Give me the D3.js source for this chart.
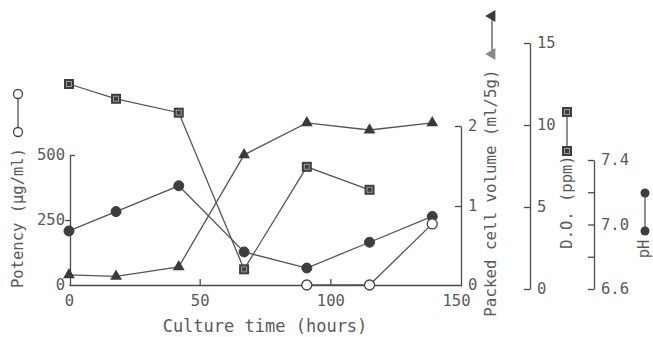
<!DOCTYPE html>
<html>
<head>
<meta charset="utf-8">
<script src="https://cdn.jsdelivr.net/npm/d3@7"></script>
<style>
  html, body { margin: 0; padding: 0; background: #fff; }
  svg { display: block; }
  text { font-family: "DejaVu Sans Mono", monospace; fill: #5a5a5a; }
</style>
</head>
<body>
<svg id="chart" width="653" height="337"></svg>
<script>
// ---- data ----
const hours = [0, 18, 42, 67, 91, 115, 139];
const potencyHours = [91, 115, 139];
const potency = [0, 0, 235];                       // µg/ml, open circles
const packedCellVolume = [0.14, 0.12, 0.24, 1.64, 2.04, 1.95, 2.04]; // ml/5g, triangles
const doHours = [0, 18, 42, 67, 91, 115];
const dissolvedO2 = [12.5, 11.6, 10.75, 1.2, 7.45, 6.05];            // ppm, squares
const pH = [6.96, 7.08, 7.24, 6.83, 6.73, 6.89, 7.05];               // filled circles

const xTicks = [0, 50, 100, 150];
const potencyTicks = [0, 250, 500];
const pcvTicks = [0, 1, 2];
const doTicks = [0, 5, 10, 15];
const phTicks = [6.6, 6.8, 7.0, 7.2, 7.4];
const phTickLabels = {"6.6": "6.6", "7": "7.0", "7.4": "7.4"};

// ---- scales ----
const x = d3.scaleLinear().domain([0, 150]).range([69, 461]);
const yPot = d3.scaleLinear().domain([0, 500]).range([285, 155]);
const yPcv = d3.scaleLinear().domain([0, 2]).range([286, 126]);
const yDo = d3.scaleLinear().domain([0, 15]).range([289, 43]);
const yPh = d3.scaleLinear().domain([6.6, 7.4]).range([289, 160]);

const svg = d3.select("#chart");
const ink = "#4a4a4a";
const lineCol = "#555";
const FS = 15.5;

function styleAxis(g) {
  g.selectAll("path.domain").attr("stroke", ink).attr("stroke-width", 1.3);
  g.selectAll(".tick line").attr("stroke", ink).attr("stroke-width", 1.3);
  g.selectAll(".tick text").attr("font-size", FS).attr("fill", "#5a5a5a")
    .attr("font-family", '"DejaVu Sans Mono", monospace');
}

// x axis (ticks pointing up, inside)
const gx = svg.append("g").attr("transform", "translate(0,285)")
  .call(d3.axisTop(x).tickValues(xTicks).tickSizeInner(6).tickSizeOuter(0).tickFormat(d3.format("d")));
styleAxis(gx);
gx.selectAll(".tick text").attr("y", 21).attr("dy", "0em");
gx.selectAll(".tick").filter(d => d === 0 || d === 150).select("line").remove();
gx.selectAll(".tick").filter(d => d === 150).select("text").attr("x", -5);

// potency axis
const gp = svg.append("g").attr("transform", "translate(70,0)")
  .call(d3.axisLeft(yPot).tickValues(potencyTicks).tickSizeInner(5).tickSizeOuter(0).tickFormat(d3.format("d")));
styleAxis(gp);
gp.selectAll(".tick").filter(d => d === 0).select("line").remove();
gp.selectAll(".tick").filter(d => d === 500).select("line").attr("x2", 5);
gp.selectAll(".tick text").attr("x", -5);

// packed cell volume axis
const gc = svg.append("g").attr("transform", "translate(461,0)")
  .call(d3.axisRight(yPcv).tickValues(pcvTicks).tickSizeInner(0).tickSizeOuter(0).tickPadding(7).tickFormat(d3.format("d")));
styleAxis(gc);
gc.selectAll(".tick line").attr("x2", -6);
gc.selectAll(".tick").filter(d => d === 0).select("line").remove();
gc.selectAll(".tick").filter(d => d === 0).select("text").attr("dy", "0.2em");

// D.O. axis
const gd = svg.append("g").attr("transform", "translate(530,0)")
  .call(d3.axisRight(yDo).tickValues(doTicks).tickSizeInner(0).tickSizeOuter(0).tickPadding(7).tickFormat(d3.format("d")));
styleAxis(gd);
gd.selectAll(".tick line").attr("x2", -6);

// pH axis
const gh = svg.append("g").attr("transform", "translate(594,0)")
  .call(d3.axisRight(yPh).tickValues(phTicks).tickSizeInner(0).tickSizeOuter(0).tickPadding(7)
    .tickFormat(d => phTickLabels[String(+d.toFixed(1))] || ""));
styleAxis(gh);
gh.selectAll(".tick line").attr("x2", -6);

// ---- lines ----
const lineGen = (ys, xs) => d3.line().x((d, i) => x(xs[i])).y(d => ys(d));
function drawLine(vals, xs, ys) {
  svg.append("path").datum(vals).attr("d", lineGen(ys, xs))
    .attr("fill", "none").attr("stroke", lineCol).attr("stroke-width", 1.3);
}
drawLine(dissolvedO2, doHours, yDo);
drawLine(pH, hours, yPh);
drawLine(packedCellVolume, hours, yPcv);
drawLine(potency, potencyHours, yPot);

// ---- markers ----
const tri = d3.symbol().type(d3.symbolTriangle).size(60);
function squareMark(g, cx, cy) {
  g.append("rect").attr("x", cx - 5).attr("y", cy - 5).attr("width", 10).attr("height", 10)
    .attr("fill", "#3e3e3e");
  g.append("rect").attr("x", cx - 2.5).attr("y", cy - 2.5).attr("width", 5).attr("height", 5)
    .attr("fill", "none").attr("stroke", "#9a9a9a").attr("stroke-width", 1);
}
const mk = svg.append("g");
doHours.forEach((h, i) => squareMark(mk, x(h), yDo(dissolvedO2[i])));
hours.forEach((h, i) => {
  mk.append("circle").attr("cx", x(h)).attr("cy", yPh(pH[i])).attr("r", 5)
    .attr("fill", "#3e3e3e").attr("stroke", "#3e3e3e");
});
hours.forEach((h, i) => {
  mk.append("path").attr("d", tri).attr("transform", `translate(${x(h)},${yPcv(packedCellVolume[i])})`)
    .attr("fill", "#3a3a3a");
});
potencyHours.forEach((h, i) => {
  mk.append("circle").attr("cx", x(h)).attr("cy", yPot(potency[i])).attr("r", 5)
    .attr("fill", "#fff").attr("stroke", "#444").attr("stroke-width", 1.3);
});

// ---- axis titles ----
function vtext(cx, cy, str, size) {
  svg.append("text").attr("transform", `translate(${cx},${cy}) rotate(-90)`)
    .attr("text-anchor", "middle").attr("dominant-baseline", "central")
    .attr("font-size", size).text(str);
}
vtext(18, 218, "Potency (\u03bcg/ml)", FS);
vtext(490, 193, "Packed cell volume (ml/5g)", FS + 0.3);
vtext(567, 202, "D.O. (ppm)", FS);
vtext(644, 249, "pH", FS);
svg.append("text").attr("x", (x(0) + x(150)) / 2).attr("y", 326)
  .attr("text-anchor", "middle").attr("dominant-baseline", "central")
  .attr("font-size", 17).text("Culture time (hours)");

// ---- legend keys beside titles ----
function vkey(cx, y1, y2, draw) {
  svg.append("line").attr("x1", cx).attr("x2", cx).attr("y1", y1).attr("y2", y2)
    .attr("stroke", lineCol).attr("stroke-width", 1.3);
  draw(y1, 0); draw(y2, 1);
}
vkey(18, 94, 132, (cy) => svg.append("circle").attr("cx", 18).attr("cy", cy).attr("r", 4.5)
  .attr("fill", "#fff").attr("stroke", "#444").attr("stroke-width", 1.3));
vkey(492, 16, 54, (cy, k) => svg.append("path").attr("d", tri)
  .attr("transform", `translate(492,${cy}) rotate(-90)`).attr("fill", k === 0 ? "#3a3a3a" : "#8a8a8a"));
vkey(567, 112, 151, (cy) => squareMark(svg, 567, cy));
vkey(645, 193, 231, (cy) => svg.append("circle").attr("cx", 645).attr("cy", cy).attr("r", 4.5)
  .attr("fill", "#3e3e3e"));
</script>
</body>
</html>
